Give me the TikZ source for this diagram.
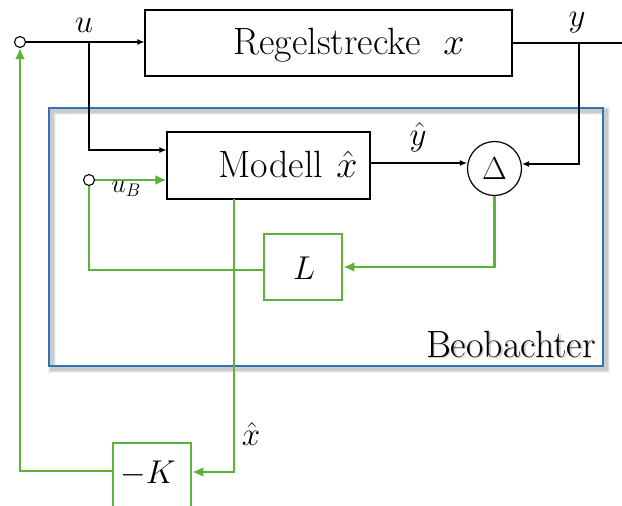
\RequirePackage{fix-cm}
\documentclass[tikz,border=0pt]{standalone}
\usetikzlibrary{arrows.meta}
\definecolor{grn}{RGB}{94,178,56}
\definecolor{blu}{RGB}{46,117,182}
\begin{document}
\begin{tikzpicture}[x=1pt,y=-1pt,
  box/.style={draw=black, line width=1.2pt, inner sep=0pt},
  gbox/.style={draw=grn, line width=2.8pt, inner sep=0pt},
  sig/.style={draw=black, line width=1.1pt, -{Latex[length=7pt,width=6pt]}},
  gline/.style={draw=grn, line width=2.8pt},
  gsig/.style={gline, -{Latex[length=11pt,width=10pt]}},
  big/.style={font=\fontsize{38}{42}\selectfont, inner sep=0pt},
  mlab/.style={font=\fontsize{33}{36}\selectfont, inner sep=0pt},
  port/.style={circle, draw=black, line width=1.1pt, fill=white, minimum size=11pt, inner sep=0pt}]
\clip (0,0) rectangle (622,506);
\fill[white] (0,0) rectangle (622,506);
% observer frame with shadow
\foreach \w/\o in {8/0.05,6/0.07,4/0.09}{
  \draw[black, line width=\w pt, opacity=\o] (52,111) rectangle (606,369);
}
\node[draw=blu, line width=2.6pt, minimum width=554pt, minimum height=258pt, inner sep=0pt] (obs) at (326,237) {};
\node[big, anchor=base east, text=black!40, opacity=0.5] (beoshadow) at (597.5,358.5) {Beobachter};
\node[big, anchor=base east] (beo) at (596,357) {Beobachter};
% blocks
\node[box, minimum width=367pt, minimum height=66pt] (plant) at (328.5,43) {};
\node[big] (plantlbl) at (349,45) {Regelstrecke\hspace{0.6em}$x$};
\node[box, minimum width=203pt, minimum height=67pt] (model) at (268.5,165.5) {};
\node[big] (modellbl) at (288,164) {Modell\hspace{0.35em}$\hat{x}$};
\node[circle, draw=black, line width=1.2pt, minimum size=54pt, inner sep=0pt] (delta) at (494.5,168.5) {\fontsize{32}{34}\selectfont$\Delta$};
\node[gbox, minimum width=78pt, minimum height=66pt] (Lbox) at (303,267) {};
\node[mlab] (Llbl) at (304,268) {$L$};
\node[gbox, minimum width=78pt, minimum height=70pt] (Kbox) at (152,478) {};
\node[mlab] (Klbl) at (148,474) {$-K$};
% ports
\node[port] (inL) at (20,42) {};
\node[port] (inB) at (89,180) {};
% coordinates
\coordinate (bu) at (89,42);
\coordinate (yout) at (622,43);
\coordinate (by) at (579,43);
\coordinate (lc) at (89,270);
\coordinate (mxs) at (234,199);
% black signals
\draw[sig] (inL.east) -- (inL.east -| plant.west);
\draw[sig] (bu) |- ([yshift=15.5pt]model.west);
\draw[black, line width=1.1pt] (plant.east) -- (yout);
\draw[sig] (by) |- ([yshift=4.5pt]delta.east);
\draw[sig] ([yshift=2.5pt]model.east) -- ([yshift=2.5pt]model.east -| delta.west);
% green signals
\draw[gsig] (inB.east) -- (inB.east -| model.west);
\draw[gline] (inB.south) -- (lc) -- (lc -| Lbox.west);
\draw[gsig] (delta.south) |- (Lbox.east);
\draw[gsig] (mxs) |- ([yshift=6pt]Kbox.east);
\draw[gsig] ([yshift=7pt]Kbox.west) -| (inL.south);
% labels
\node[mlab] (ulbl) at (84,25) {$u$};
\node[mlab] (ylbl) at (577,23) {$y$};
\node[mlab] (yhlbl) at (418,137) {$\hat{y}$};
\node[mlab] (xhlbl) at (251,434) {$\hat{x}$};
\node[font=\fontsize{26}{28}\selectfont, inner sep=0pt] (ublbl) at (126,189) {$u_B$};
\end{tikzpicture}
\end{document}
